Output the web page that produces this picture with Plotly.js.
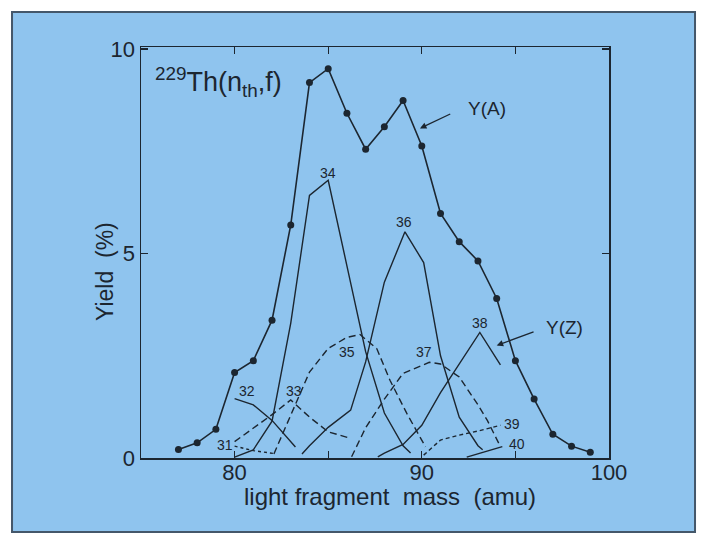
<!DOCTYPE html>
<html>
<head>
<meta charset="utf-8">
<script src="https://cdn.plot.ly/plotly-3.0.1.min.js"></script>
<style>
  html, body { margin: 0; padding: 0; background: #ffffff; }
  #chart { width: 703px; height: 536px; }
</style>
</head>
<body>
<div id="chart"></div>
<script>
// ---- Mass yield Y(A), 229Th(nth,f) ----
const massA  = [77, 78, 79, 80, 81, 82, 83, 84, 85, 86, 87, 88, 89, 90, 91, 92, 93, 94, 95, 96, 97, 98, 99];
const yieldA = [0.21, 0.37, 0.70, 2.09, 2.38, 3.37, 5.70, 9.18, 9.52, 8.43, 7.55, 8.10, 8.74, 7.63, 5.98, 5.29, 4.82, 3.90, 2.38, 1.44, 0.58, 0.29, 0.14];

// ---- Charge distributions Y(Z) for each Z ----
const z31Mass = [80, 81, 82.1];
const z31Yield = [0.29, 0.18, 0.11];
const z32Mass = [80, 81, 82, 83, 83.25];
const z32Yield = [1.45, 1.30, 0.92, 0.42, 0.27];
const z33Mass = [80, 81, 82, 83, 84, 85, 86.2];
const z33Yield = [0.40, 0.73, 1.06, 1.42, 1.00, 0.64, 0.48];
const z34Mass = [80, 81, 82, 83, 84, 85, 86, 87, 88, 89, 89.4];
const z34Yield = [0.02, 0.20, 0.90, 3.30, 6.42, 6.79, 4.70, 2.60, 1.10, 0.30, 0.12];
const z35Mass = [82.1, 83, 84, 85, 86, 86.7, 87.6, 88.3, 89.2, 90.2];
const z35Yield = [0.10, 1.05, 2.10, 2.68, 2.95, 3.02, 2.67, 1.90, 1.09, 0.27];
const z36Mass = [83.6, 84, 85, 86.2, 87, 88, 89.1, 90.1, 91, 92, 93, 93.25];
const z36Yield = [0.10, 0.30, 0.75, 1.17, 2.35, 4.30, 5.53, 4.78, 2.50, 1.00, 0.30, 0.20];
const z37Mass = [86.25, 87, 88, 89, 90.4, 91, 92, 93, 93.5, 94.2];
const z37Yield = [0.03, 0.74, 1.44, 2.07, 2.34, 2.30, 1.98, 1.30, 0.92, 0.28];
const z38Mass = [87.65, 88, 89, 90, 91, 92, 93.1, 94.2];
const z38Yield = [0.03, 0.12, 0.33, 0.80, 1.60, 2.30, 3.07, 2.28];
const z39Mass = [90.1, 91, 92, 93, 94.2];
const z39Yield = [0.07, 0.44, 0.56, 0.66, 0.80];
const z40Mass = [92.4, 94.3];
const z40Yield = [0.02, 0.28];

// ---- Text ----
const zLabels = ['31', '32', '33', '34', '35', '36', '37', '38', '39', '40'];
const xTickVals = [80, 85, 90, 95, 100];
const xTickText = ['80', '', '90', '', '100'];
const yTickVals = [0, 5, 10];
const yTickText = ['0', '5', '10'];

const INK = '#1c2630';
const FONT = '"Liberation Sans", Arial, Helvetica, sans-serif';

const zSeries = [
  {x: z31Mass, y: z31Yield, dash: '3px,3px'},
  {x: z32Mass, y: z32Yield, dash: 'solid'},
  {x: z33Mass, y: z33Yield, dash: '7px,4px'},
  {x: z34Mass, y: z34Yield, dash: 'solid'},
  {x: z35Mass, y: z35Yield, dash: '7px,4px'},
  {x: z36Mass, y: z36Yield, dash: 'solid'},
  {x: z37Mass, y: z37Yield, dash: '7px,4px'},
  {x: z38Mass, y: z38Yield, dash: 'solid'},
  {x: z39Mass, y: z39Yield, dash: '4px,3px'},
  {x: z40Mass, y: z40Yield, dash: 'solid'}
];

const traces = zSeries.map((s, i) => ({
  type: 'scatter', mode: 'lines', x: s.x, y: s.y,
  name: 'Z=' + zLabels[i],
  line: {color: INK, width: 1.4, dash: s.dash},
  showlegend: false
}));

traces.push({
  type: 'scatter', mode: 'lines+markers', x: massA, y: yieldA, name: 'Y(A)',
  line: {color: INK, width: 1.6},
  marker: {color: INK, size: 7},
  showlegend: false
});

// label positions (data coordinates) for Z numbers
const labelPos = [
  [79.5, 0.32], [80.65, 1.63], [83.15, 1.63], [85.0, 6.97], [86.0, 2.59],
  [89.05, 5.77], [90.12, 2.59], [93.1, 3.29], [94.8, 0.82], [95.07, 0.34]
];

const annotations = zLabels.map((t, i) => ({
  x: labelPos[i][0], y: labelPos[i][1], xref: 'x', yref: 'y',
  text: t, showarrow: false, font: {family: FONT, size: 14, color: INK}
}));

annotations.push(
  {x: 93.5, y: 8.55, xref: 'x', yref: 'y', text: 'Y(A)', showarrow: false,
   font: {family: FONT, size: 19, color: INK}},
  {x: 89.9, y: 8.06, xref: 'x', yref: 'y', ax: 91.6, ay: 8.43, axref: 'x', ayref: 'y',
   text: '', showarrow: true, arrowhead: 2, arrowsize: 1, arrowwidth: 1.3, arrowcolor: INK},
  {x: 97.6, y: 3.2, xref: 'x', yref: 'y', text: 'Y(Z)', showarrow: false,
   font: {family: FONT, size: 19, color: INK}},
  {x: 94.0, y: 2.75, xref: 'x', yref: 'y', ax: 96.05, ay: 3.1, axref: 'x', ayref: 'y',
   text: '', showarrow: true, arrowhead: 2, arrowsize: 1, arrowwidth: 1.3, arrowcolor: INK},
  {x: 0.025, y: 9.2, xref: 'paper', yref: 'y', xanchor: 'left', yanchor: 'middle',
   text: '<sup>229</sup>Th(n<sub>th</sub>,f)', showarrow: false,
   font: {family: FONT, size: 27, color: INK}},
  {x: -0.077, y: 4.57, xref: 'paper', yref: 'y', xanchor: 'center', yanchor: 'middle',
   text: 'Yield  (%)', textangle: -90, showarrow: false,
   font: {family: FONT, size: 23, color: INK}},
  {x: 88.3, y: -0.094, xref: 'x', yref: 'paper', xanchor: 'center', yanchor: 'middle',
   text: 'light fragment  mass  (amu)', showarrow: false,
   font: {family: FONT, size: 24, color: INK}}
);

const layout = {
  width: 703, height: 536,
  margin: {l: 141, r: 94, t: 47, b: 78, pad: 0},
  paper_bgcolor: '#ffffff',
  plot_bgcolor: 'rgba(0,0,0,0)',
  font: {family: FONT, color: INK},
  showlegend: false,
  xaxis: {
    range: [75, 100], tickmode: 'array', tickvals: xTickVals, ticktext: xTickText,
    ticks: 'inside', ticklen: 7, tickwidth: 1.3, tickcolor: INK,
    showline: true, linecolor: INK, linewidth: 1.5, mirror: 'ticks',
    showgrid: false, zeroline: false, ticklabelstandoff: -6,
    tickfont: {family: FONT, size: 22, color: INK}
  },
  yaxis: {
    range: [0, 10.05], tickmode: 'array', tickvals: yTickVals, ticktext: yTickText,
    ticks: 'inside', ticklen: 7, tickwidth: 1.3, tickcolor: INK,
    showline: true, linecolor: INK, linewidth: 1.5, mirror: 'ticks',
    showgrid: false, zeroline: false,
    tickfont: {family: FONT, size: 22, color: INK}
  },
  shapes: [{
    type: 'rect', xref: 'paper', yref: 'paper', layer: 'below',
    x0: -0.2756, x1: 1.1838, y0: -0.180, y1: 1.0852,
    fillcolor: '#8fc4ee', line: {color: '#44576a', width: 2}
  }],
  annotations: annotations
};

Plotly.newPlot('chart', traces, layout, {displayModeBar: false, staticPlot: true});
</script>
</body>
</html>
